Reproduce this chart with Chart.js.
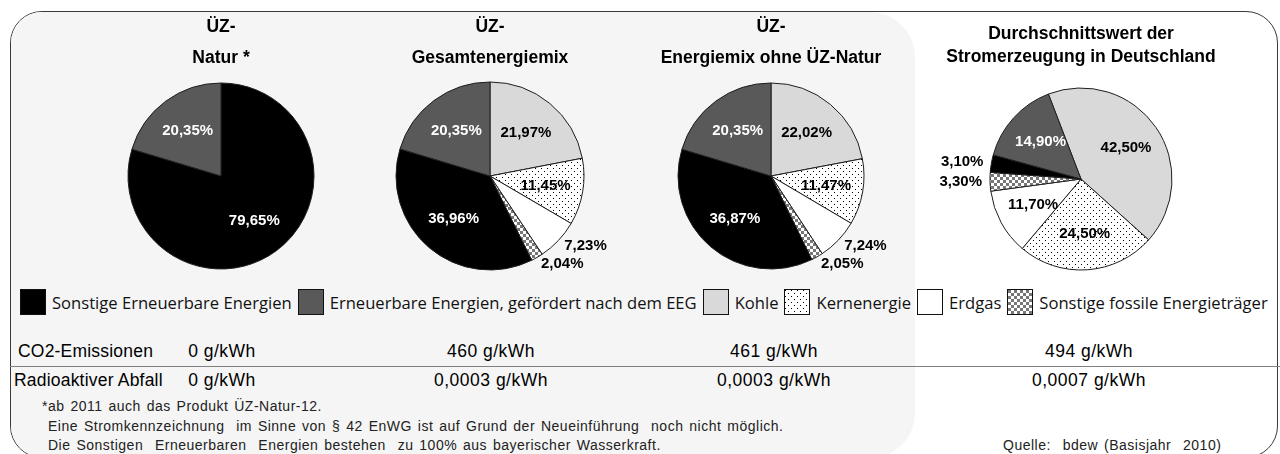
<!DOCTYPE html>
<html>
<head>
<meta charset="utf-8">
<script src="https://cdn.jsdelivr.net/npm/chart.js@4.4.0/dist/chart.umd.min.js"></script>
<style>
  html, body { margin: 0; padding: 0; background: #fff; }
  #page { position: relative; width: 1280px; height: 454px; overflow: hidden; font-family: "Liberation Sans", Arial, sans-serif; color: #000; }
  #frame { position: absolute; left: 10px; top: 11px; width: 1268px; height: 447px; border: 1.5px solid #3a3a3a; border-radius: 32px; overflow: hidden; box-sizing: border-box; }
  #panel { position: absolute; left: 0; top: 0; width: 904px; height: 446px; background: #f5f5f5; border-radius: 0 45px 45px 0; }
  canvas { position: absolute; top: 0; }
  #legend { position: absolute; left: 20px; top: 289px; display: flex; align-items: center; font-family: "Open Sans", sans-serif; font-size: 16.6px; color: #111; white-space: nowrap; }
  #legend .box { width: 26px; height: 26px; border: 1px solid #111; box-sizing: border-box; margin-right: 6px; }
  #legend .txt { margin-right: 6px; }
  .rowlabel { position: absolute; font-size: 17.5px; line-height: 20px; letter-spacing: 0.2px; }
  .cell { position: absolute; width: 200px; text-align: center; font-size: 17.5px; line-height: 20px; letter-spacing: 0.5px; }
  #rule { position: absolute; left: 10px; top: 366px; width: 1270px; border-top: 1.5px solid #808080; }
  .note { position: absolute; font-size: 14px; line-height: 19px; color: #222; letter-spacing: 0.5px; word-spacing: 1.5px; white-space: pre; }
</style>
</head>
<body>
<div id="page">
  <div id="frame"><div id="panel"></div></div>
  <canvas id="c1" width="270" height="278" style="left:86px"></canvas>
  <canvas id="c2" width="270" height="278" style="left:355px"></canvas>
  <canvas id="c3" width="270" height="278" style="left:636px"></canvas>
  <canvas id="c4" width="300" height="289" style="left:931px"></canvas>
  <div id="legend"></div>
  <div id="rule"></div>
  <div id="table"></div>
  <div class="note" style="left:42px; top:397px">*ab 2011 auch das Produkt ÜZ-Natur-12.</div>
  <div class="note" style="left:48px; top:417px">Eine Stromkennzeichnung  im Sinne von § 42 EnWG ist auf Grund der Neueinführung  noch nicht möglich.</div>
  <div class="note" style="left:48px; top:436px">Die Sonstigen  Erneuerbaren  Energien bestehen  zu 100% aus bayerischer Wasserkraft.</div>
  <div class="note" style="left:1003px; top:436px">Quelle:  bdew (Basisjahr  2010)</div>
</div>
<script>
// categories in legend order
const categories = ['Sonstige Erneuerbare Energien', 'Erneuerbare Energien, gefördert nach dem EEG', 'Kohle', 'Kernenergie', 'Erdgas', 'Sonstige fossile Energieträger'];

// shares in % (same order as categories)
const naturValues = [79.65, 20.35, 0, 0, 0, 0];
const gesamtValues = [36.96, 20.35, 21.97, 11.45, 7.23, 2.04];
const ohneNaturValues = [36.87, 20.35, 22.02, 11.47, 7.24, 2.05];
const deutschlandValues = [3.10, 14.90, 42.50, 24.50, 11.70, 3.30];

const titles = [
    ['ÜZ-', 'Natur *'],
    ['ÜZ-', 'Gesamtenergiemix'],
    ['ÜZ-', 'Energiemix ohne ÜZ-Natur'],
    ['Durchschnittswert der', 'Stromerzeugung in Deutschland']
];

const rowLabels = ['CO2-Emissionen', 'Radioaktiver Abfall'];
const co2Values = ['0 g/kWh', '460 g/kWh', '461 g/kWh', '494 g/kWh'];
const wasteValues = ['0 g/kWh', '0,0003 g/kWh', '0,0003 g/kWh', '0,0007 g/kWh'];

// slices go clockwise from the top in this order
const drawOrder = [2, 3, 4, 5, 0, 1];

function makeTile(kind) {
    const c = document.createElement('canvas');
    c.width = 6; c.height = 6;
    const g = c.getContext('2d');
    g.fillStyle = '#fff';
    g.fillRect(0, 0, 6, 6);
    if (kind === 'dots') {
        g.fillStyle = '#000';
        g.fillRect(0, 0, 1, 1);
        g.fillRect(3, 3, 1, 1);
    } else {
        g.fillStyle = '#777';
        g.fillRect(0, 0, 3, 3);
        g.fillRect(3, 3, 3, 3);
    }
    return c;
}

const dotTile = makeTile('dots');
const checkTile = makeTile('check');
const scratch = document.createElement('canvas').getContext('2d');
const fills = ['#000000', '#595959', '#d9d9d9', scratch.createPattern(dotTile, 'repeat'), '#ffffff', scratch.createPattern(checkTile, 'repeat')];
const cssFills = ['#000', '#595959', '#d9d9d9', 'url(' + dotTile.toDataURL() + ')', '#fff', 'url(' + checkTile.toDataURL() + ')'];
const textColors = ['#fff', '#fff', '#000', '#000', '#000', '#000'];

const sliceLabels = {
    id: 'sliceLabels',
    afterDatasetsDraw(chart) {
        const ctx = chart.ctx;
        const ds = chart.data.datasets[0];
        const meta = chart.getDatasetMeta(0);
        ctx.save();
        ctx.font = 'bold 15px "Liberation Sans", Arial, sans-serif';
        ctx.textBaseline = 'middle';
        meta.data.forEach(function (arc, i) {
            const v = ds.data[i];
            if (!v) return;
            const p = arc.getProps(['x', 'y', 'startAngle', 'endAngle', 'outerRadius'], true);
            const mid = (p.startAngle + p.endAngle) / 2;
            const text = v.toFixed(2).replace('.', ',') + '%';
            if (v < 10) {
                const d = p.outerRadius + 8;
                ctx.textAlign = Math.cos(mid) >= 0 ? 'left' : 'right';
                ctx.fillStyle = '#000';
                ctx.fillText(text, p.x + Math.cos(mid) * d, p.y + Math.sin(mid) * d);
            } else {
                const d = p.outerRadius * 0.6;
                ctx.textAlign = 'center';
                ctx.fillStyle = ds.labelColors[i];
                ctx.fillText(text, p.x + Math.cos(mid) * d, p.y + Math.sin(mid) * d);
            }
        });
        ctx.restore();
    }
};

function makePie(id, values, title, rotation, radius, titleTop, lineHeight) {
    return new Chart(document.getElementById(id), {
        type: 'pie',
        data: {
            labels: drawOrder.map(i => categories[i]),
            datasets: [{
                data: drawOrder.map(i => values[i]),
                backgroundColor: drawOrder.map(i => fills[i]),
                labelColors: drawOrder.map(i => textColors[i]),
                borderColor: '#1e1e1e',
                borderWidth: 1
            }]
        },
        options: {
            responsive: false,
            animation: false,
            events: [],
            radius: radius,
            rotation: rotation,
            layout: { padding: 0 },
            plugins: {
                legend: { display: false },
                tooltip: { enabled: false },
                title: {
                    display: true,
                    text: title,
                    color: '#000',
                    padding: { top: titleTop, bottom: 0 },
                    font: { family: '"Liberation Sans", Arial, sans-serif', size: 17.5, weight: 'bold', lineHeight: lineHeight }
                }
            }
        },
        plugins: [sliceLabels]
    });
}

makePie('c1', naturValues, titles[0], 0, 93, 12, '31px');
makePie('c2', gesamtValues, titles[1], 0, 94, 12, '31px');
makePie('c3', ohneNaturValues, titles[2], 0, 93, 12, '31px');
makePie('c4', deutschlandValues, titles[3], -21, 91, 23, '23px');

// legend row
const legend = document.getElementById('legend');
categories.forEach(function (name, i) {
    const box = document.createElement('div');
    box.className = 'box';
    box.style.background = cssFills[i];
    const txt = document.createElement('span');
    txt.className = 'txt';
    txt.textContent = name;
    legend.appendChild(box);
    legend.appendChild(txt);
});

// table of emissions
const table = document.getElementById('table');
const columnCenters = [222, 491, 774, 1089];
const rowTops = [341, 370];
const rowLefts = [18, 14];
[co2Values, wasteValues].forEach(function (row, r) {
    const lab = document.createElement('div');
    lab.className = 'rowlabel';
    lab.style.left = rowLefts[r] + 'px';
    lab.style.top = rowTops[r] + 'px';
    lab.textContent = rowLabels[r];
    table.appendChild(lab);
    row.forEach(function (val, c) {
        const cell = document.createElement('div');
        cell.className = 'cell';
        cell.style.left = (columnCenters[c] - 100) + 'px';
        cell.style.top = rowTops[r] + 'px';
        cell.textContent = val;
        table.appendChild(cell);
    });
});
</script>
</body>
</html>
